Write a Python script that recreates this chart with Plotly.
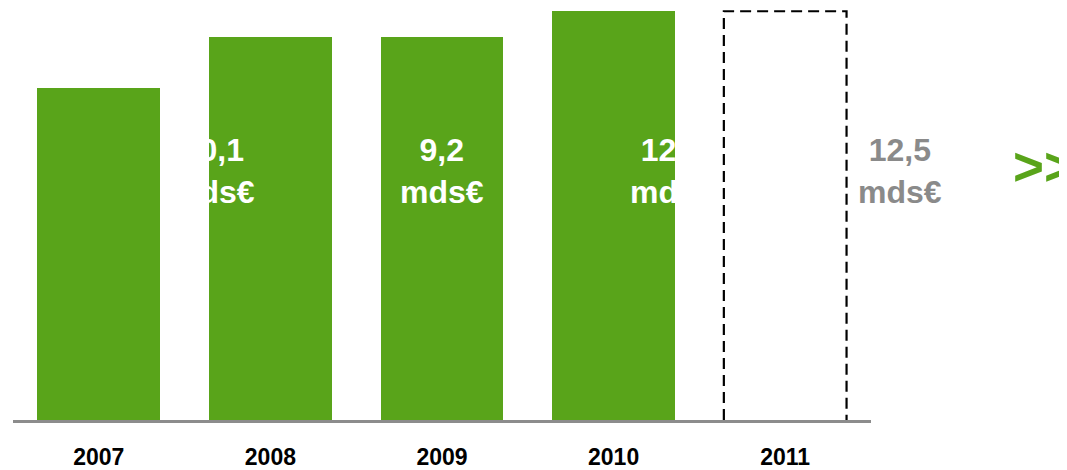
import plotly.graph_objects as go

# ---- data ----
years = ["2007", "2008", "2009", "2010", "2011"]
bar_values = [10.15, 11.7, 11.7, 12.5, 12.5]  # bar heights (mds€)
forecast_index = 4                             # 2011 drawn as dashed outline
label_numbers = ["10,1", "9,2", "12,5", "12,5"]
label_unit = "mds€"
label_xpos = [0.665, 2.0, 3.34, 4.67]          # label centres in category units
label_ypos = 7.63
label_colors = ["white", "white", "white", "#8a8a8a"]

GREEN = "#59a41a"
FONT = "Liberation Sans, Arial, sans-serif"
BAR_W = 0.715
X_RANGE = [-0.5, 4.5]

xs = list(range(len(years)))

fig = go.Figure()

# solid green bars (actual years)
fig.add_trace(go.Bar(
    x=xs[:forecast_index], y=bar_values[:forecast_index],
    width=BAR_W, marker=dict(color=GREEN, line=dict(width=0)),
    hoverinfo="skip", showlegend=False,
))

# dashed outline for forecast year, built from its value
fx = xs[forecast_index]
fv = bar_values[forecast_index]
fig.add_trace(go.Scatter(
    x=[fx - BAR_W / 2, fx - BAR_W / 2, fx + BAR_W / 2, fx + BAR_W / 2],
    y=[0, fv, fv, 0],
    mode="lines",
    line=dict(color="black", width=2.2, dash="11px,6px"),
    hoverinfo="skip", showlegend=False, cliponaxis=False,
))

span = X_RANGE[1] - X_RANGE[0]
# value labels (paper x so labels outside the axis range still show)
for num, xp, col in zip(label_numbers, label_xpos, label_colors):
    fig.add_annotation(
        x=(xp - X_RANGE[0]) / span, y=label_ypos, xref="paper", yref="y",
        xanchor="center", yanchor="middle",
        text=f"{num}<br>{label_unit}", showarrow=False,
        font=dict(family=FONT, size=32, color=col, weight="bold"),
        align="center",
    )

# ">>" marker at right
fig.add_annotation(
    x=1.163, y=label_ypos + 0.12, xref="paper", yref="y",
    text=">>", showarrow=False, xanchor="left", yanchor="middle",
    font=dict(family=FONT, size=53, color=GREEN, weight="bold"),
)

# page body has an 8px default margin: figure sized/offset to compensate
fig.update_layout(
    width=1059, height=462,
    margin=dict(l=5, r=196, t=0, b=46),
    paper_bgcolor="white", plot_bgcolor="white",
    bargap=0,
    xaxis=dict(
        range=X_RANGE, tickmode="array", tickvals=xs, ticktext=years,
        showgrid=False, zeroline=False, showline=True,
        linecolor="#8c8c8c", linewidth=3, ticks="",
        tickfont=dict(family=FONT, size=23, color="black", weight="bold"),
        ticklabelstandoff=14, fixedrange=True,
    ),
    yaxis=dict(
        range=[0, 12.6], visible=False, showgrid=False, zeroline=False,
        fixedrange=True,
    ),
)

fig.write_html("out.html")
